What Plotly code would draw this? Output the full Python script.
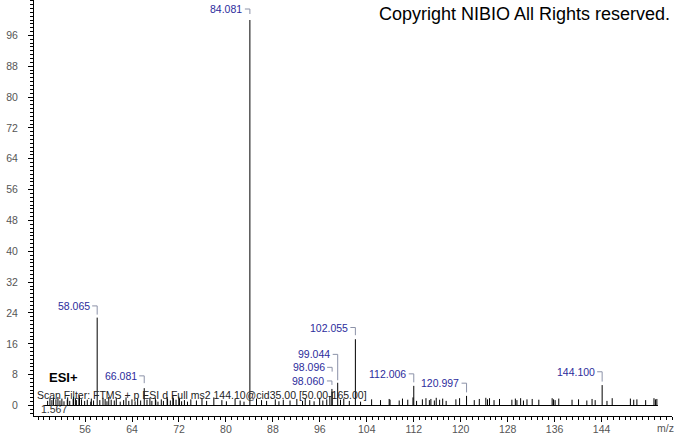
import plotly.graph_objects as go

# ---------------- data ----------------
# labelled peaks (m/z, relative abundance %)
label_mz = [58.065, 66.081, 84.081, 98.060, 98.096, 99.044, 102.055, 112.006, 120.997, 144.100]
label_int = [22.8, 4.5, 100.0, 4.3, 3.6, 5.9, 17.2, 5.1, 2.5, 5.3]
label_text = ["58.065", "66.081", "84.081", "98.060", "98.096", "99.044", "102.055", "112.006", "120.997", "144.100"]

# small unlabelled peaks
noise_mz = [49.62, 50.02, 50.35, 50.61, 51.04, 51.38, 51.72, 52.05, 52.41, 52.97, 53.04, 53.39, 53.97, 54.03,
            54.35, 54.52, 54.95, 55.05, 55.40, 55.93, 56.38, 56.97, 57.07, 57.45, 58.51, 59.05, 59.42, 59.73,
            60.04, 60.45, 60.98, 61.32, 61.99, 62.57, 62.98, 63.45, 63.99, 64.52, 64.96, 65.47, 66.55, 67.05,
            67.38, 67.98, 68.05, 68.42, 68.99, 69.35, 69.98, 70.06, 70.53, 70.96, 71.05, 71.50, 71.97, 72.08,
            72.45, 72.93, 73.45, 74.02, 74.97, 75.92, 76.71, 77.94, 79.31, 80.08, 81.56, 82.42, 83.08, 85.21,
            86.07, 86.93, 88.41, 89.03, 89.77, 90.92, 92.08, 93.05, 93.51, 94.28, 95.02, 95.97, 96.51, 97.18,
            97.71, 99.52, 100.08, 101.02, 102.94, 104.82, 106.34, 107.81, 107.96, 109.52, 110.08, 110.98,
            111.87, 112.48, 113.47, 114.08, 114.66, 114.92, 115.51, 115.83, 116.41, 116.93, 117.52, 119.18,
            119.81, 122.31, 123.17, 124.28, 124.57, 124.91, 125.68, 126.61, 128.72, 129.31, 129.58, 130.21,
            130.69, 131.29, 132.18, 133.31, 135.58, 135.82, 136.09, 136.71, 138.97, 140.08, 141.49, 142.38,
            142.91, 144.92, 145.81, 148.91, 149.48, 150.02, 151.51, 152.93, 153.18, 153.42]
noise_int = [1.2, 1.9, 1.4, 2.0, 1.6, 2.2, 1.3, 1.8, 1.1, 1.5, 2.1, 1.2, 1.7, 2.3,
             1.9, 1.4, 2.0, 2.4, 1.6, 1.2, 1.5, 1.0, 1.8, 1.3, 1.4, 2.0, 1.7, 1.1,
             2.2, 1.5, 1.3, 1.9, 1.0, 1.4, 2.1, 1.2, 1.6, 1.1, 1.8, 1.3, 1.5, 2.0,
             1.2, 1.9, 1.4, 1.0, 1.6, 1.2, 2.2, 1.7, 1.3, 2.4, 1.9, 1.5, 2.3, 1.8,
             1.1, 1.4, 1.0, 1.6, 1.3, 1.9, 1.2, 2.1, 1.4, 1.1, 1.7, 1.3, 1.0, 1.8,
             1.4, 1.2, 1.6, 1.1, 1.5, 1.3, 1.7, 1.2, 1.9, 1.4, 1.1, 2.0, 1.3, 1.6,
             2.4, 1.5, 1.8, 1.2, 1.0, 1.6, 1.4, 1.7, 1.5, 1.3, 1.8, 1.5,
             2.1, 1.2, 1.6, 1.9, 1.4, 1.7, 1.3, 2.0, 1.5, 1.8, 1.2, 1.6,
             1.9, 1.4, 1.7, 2.0, 1.6, 1.9, 1.4, 1.7, 1.5, 1.8, 1.4, 1.9,
             1.3, 1.6, 1.7, 1.5, 1.9, 1.6, 1.4, 1.8, 1.5, 1.6, 1.3, 1.7,
             1.4, 1.2, 1.9, 1.8, 1.5, 1.6, 1.4, 1.9, 1.6, 1.7]

baseline_mz = [49.0, 153.6]

y_tick_vals = list(range(0, 97, 8))
x_tick_vals = list(range(56, 145, 8))

# ---------------- layout constants ----------------
W, H = 674, 434
ML, MR, MT, MB = 34, 2, 0, 18
XR = [47.3, 156.0]
YR = [-2.72, 105.19]
plot_w = W - ML - MR
plot_h = H - MT - MB
px_x = plot_w / (XR[1] - XR[0])
px_y = plot_h / (YR[1] - YR[0])

FONT = "Arial, Liberation Sans, sans-serif"
LABEL_COLOR = "#2c2c9c"
BRACKET_COLOR = "#8c92a8"

# per-label offsets (pixels): label centre above peak top, bracket end above peak top
label_dy = [11.7, 12.3, 11.0, 8.0, 24.3, 28.4, 11.7, 12.0, 12.7, 13.3]
bracket_end = [3.0, 5.0, 6.0, 4.0, 20.0, 2.5, 4.0, 3.5, 3.5, 3.5]

# ---------------- stems ----------------
all_mz = noise_mz + label_mz
all_int = noise_int + label_int
sx, sy = [], []
for m, v in zip(all_mz, all_int):
    sx += [m, m, None]
    sy += [0, v, None]

fig = go.Figure()
fig.add_trace(go.Scatter(x=baseline_mz, y=[0, 0], mode="lines",
                         line=dict(color="black", width=1), hoverinfo="skip"))
fig.add_trace(go.Scatter(x=sx, y=sy, mode="lines",
                         line=dict(color="black", width=1), hoverinfo="skip"))

# ---------------- labels + brackets ----------------
annotations = []
shapes = []
for m, v, t, dy, be in zip(label_mz, label_int, label_text, label_dy, bracket_end):
    ly = v + dy / px_y
    annotations.append(dict(x=m, y=ly, xref="x", yref="y", text=t, showarrow=False,
                            xanchor="right", yanchor="middle", xshift=-6.5, borderpad=0,
                            font=dict(family=FONT, size=10.5, color=LABEL_COLOR)))
    x0 = m - 5 / px_x
    yb = v + be / px_y
    shapes.append(dict(type="path", xref="x", yref="y",
                       path=f"M {x0},{ly} L {m},{ly} L {m},{yb}",
                       line=dict(color=BRACKET_COLOR, width=1)))

def px2paper(xp, yp):
    return (xp - ML) / plot_w, (H - MB - yp) / plot_h

cx, cy = px2paper(377, 14)
annotations.append(dict(x=cx, y=cy, xref="paper", yref="paper", text="Copyright NIBIO All Rights reserved.",
                        showarrow=False, xanchor="left", yanchor="middle",
                        font=dict(family=FONT, size=18, color="black")))
ex, ey = px2paper(46.5, 377)
annotations.append(dict(x=ex, y=ey, xref="paper", yref="paper", text="<b>ESI+</b>",
                        showarrow=False, xanchor="left", yanchor="middle",
                        font=dict(family=FONT, size=13, color="black")))
fx, fy = px2paper(35.5, 394.5)
annotations.append(dict(x=fx, y=fy, xref="paper", yref="paper",
                        text="Scan Filter: FTMS + p ESI d Full ms2 144.10@cid35.00 [50.00-165.00]",
                        showarrow=False, xanchor="left", yanchor="middle", borderpad=0,
                        font=dict(family=FONT, size=10.5, color="#222222")))
rx, ry = px2paper(39.5, 409)
annotations.append(dict(x=rx, y=ry, xref="paper", yref="paper", text="1.567",
                        showarrow=False, xanchor="left", yanchor="middle", borderpad=0,
                        font=dict(family=FONT, size=10.5, color="#333333")))
mx, my = px2paper(665, 427.5)
annotations.append(dict(x=mx, y=my, xref="paper", yref="paper", text="m/z",
                        showarrow=False, xanchor="center", yanchor="middle",
                        font=dict(family=FONT, size=10.5, color="#555555")))

fig.update_layout(
    width=W, height=H,
    margin=dict(l=ML, r=MR, t=MT, b=MB, pad=0, autoexpand=False),
    paper_bgcolor="white", plot_bgcolor="white",
    showlegend=False,
    annotations=annotations,
    shapes=shapes,
    xaxis=dict(range=XR, showgrid=False, zeroline=False, showline=True, linecolor="black", linewidth=1,
               automargin=False,
               ticks="outside", ticklen=5, tickcolor="black", tickwidth=1,
               tickmode="array", tickvals=x_tick_vals, ticktext=[str(v) for v in x_tick_vals],
               tickfont=dict(family=FONT, size=10.5, color="#555555"), ticklabelstandoff=-2,
               minor=dict(ticks="outside", ticklen=3, tickcolor="black", tickwidth=1,
                          tickmode="linear", tick0=0, dtick=1, showgrid=False)),
    yaxis=dict(range=YR, showgrid=False, zeroline=False, showline=True, linecolor="black", linewidth=1,
               automargin=False,
               ticks="outside", ticklen=5, tickcolor="black", tickwidth=1,
               tickmode="array", tickvals=y_tick_vals, ticktext=[str(v) for v in y_tick_vals],
               tickfont=dict(family=FONT, size=10.5, color="#555555"),
               ticklabelstandoff=8,
               minor=dict(ticks="outside", ticklen=3, tickcolor="black", tickwidth=1,
                          tickmode="linear", tick0=0, dtick=1, showgrid=False)),
)

fig.write_html("out.html", config={"displayModeBar": False},
               post_script="document.body.style.margin='0';document.body.style.padding='0';"
                           "document.body.style.overflow='hidden';")
